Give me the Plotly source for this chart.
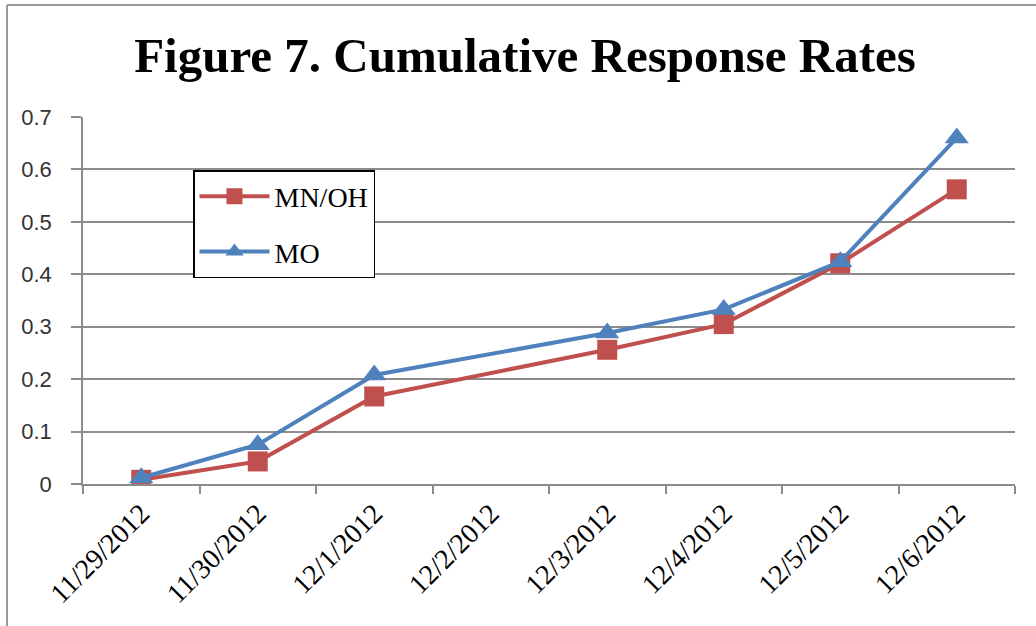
import plotly.graph_objects as go

dates = ["11/29/2012", "11/30/2012", "12/1/2012", "12/2/2012",
         "12/3/2012", "12/4/2012", "12/5/2012", "12/6/2012"]
mn_oh = [0.008, 0.043, 0.167, None, 0.256, 0.305, 0.421, 0.562]
mo = [0.012, 0.075, 0.208, None, 0.288, 0.333, 0.424, 0.66]
y_ticks = [0, 0.1, 0.2, 0.3, 0.4, 0.5, 0.6, 0.7]
y_tick_text = ["0", "0.1", "0.2", "0.3", "0.4", "0.5", "0.6", "0.7"]

W, H = 1036, 626
L, R, T, B = 83, 21, 117, 142
pw, ph = W - L - R, H - T - B

def px(x):
    return (x - L) / pw

def py(y):
    return (H - B - y) / ph

RED = "#C0504D"
BLUE = "#4F81BD"
GRID = "#8C8C8C"

fig = go.Figure()
fig.add_trace(go.Scatter(
    x=dates, y=mn_oh, name="MN/OH", mode="lines+markers", connectgaps=True,
    line=dict(color=RED, width=4),
    marker=dict(symbol="square", size=20, color=RED),
    legendgroup="a",
))
fig.add_trace(go.Scatter(
    x=dates, y=mo, name="MO", mode="lines+markers", connectgaps=True,
    line=dict(color=BLUE, width=4),
    marker=dict(symbol="triangle-up", size=21, color=BLUE),
    legendgroup="b",
))

fig.update_layout(
    width=W, height=H,
    margin=dict(l=L, r=R, t=T, b=B),
    paper_bgcolor="white", plot_bgcolor="white",
    title=dict(
        text="<b>Figure 7. Cumulative Response Rates</b>",
        font=dict(family="Liberation Serif", size=49, color="black"),
        x=525 / W, xanchor="center", xref="container",
        y=1 - 55 / H, yanchor="middle", yref="container",
    ),
    xaxis=dict(
        type="category", categoryorder="array", categoryarray=dates,
        range=[-0.5, 7.5],
        tickson="boundaries", ticks="outside", ticklen=8, tickcolor=GRID,
        tickwidth=1.5,
        showgrid=False, showline=True, linecolor=GRID, linewidth=1.5,
        tickangle=-45,
        tickfont=dict(family="Liberation Serif", size=28, color="black"),
        zeroline=False,
    ),
    yaxis=dict(
        range=[0, 0.7], tickvals=y_ticks, ticktext=y_tick_text,
        ticks="outside", ticklen=10, tickcolor=GRID, tickwidth=1.5,
        showgrid=True, gridcolor=GRID, gridwidth=1.5,
        showline=True, linecolor=GRID, linewidth=1.5,
        zeroline=False,
        tickfont=dict(family="Liberation Sans", size=22, color="#333333"),
        ticklabelstandoff=15,
    ),
    legend=dict(
        x=px(193), y=py(170), xanchor="left", yanchor="top",
        bgcolor="white", bordercolor="black", borderwidth=1.5,
        font=dict(family="Liberation Serif", size=28, color="black"),
        tracegroupgap=16, itemwidth=70,
        entrywidth=185, entrywidthmode="pixels",
    ),
    showlegend=True,
    shapes=[
        dict(type="line", xref="paper", yref="paper",
             x0=px(7), x1=px(7), y0=py(H + 5), y1=py(5),
             line=dict(color="#999999", width=2)),
        dict(type="line", xref="paper", yref="paper",
             x0=px(7), x1=px(W + 5), y0=py(5), y1=py(5),
             line=dict(color="#999999", width=2)),
    ],
)

fig.write_html("out.html", config={"displayModeBar": False},
               post_script="document.body.style.margin='0';")
